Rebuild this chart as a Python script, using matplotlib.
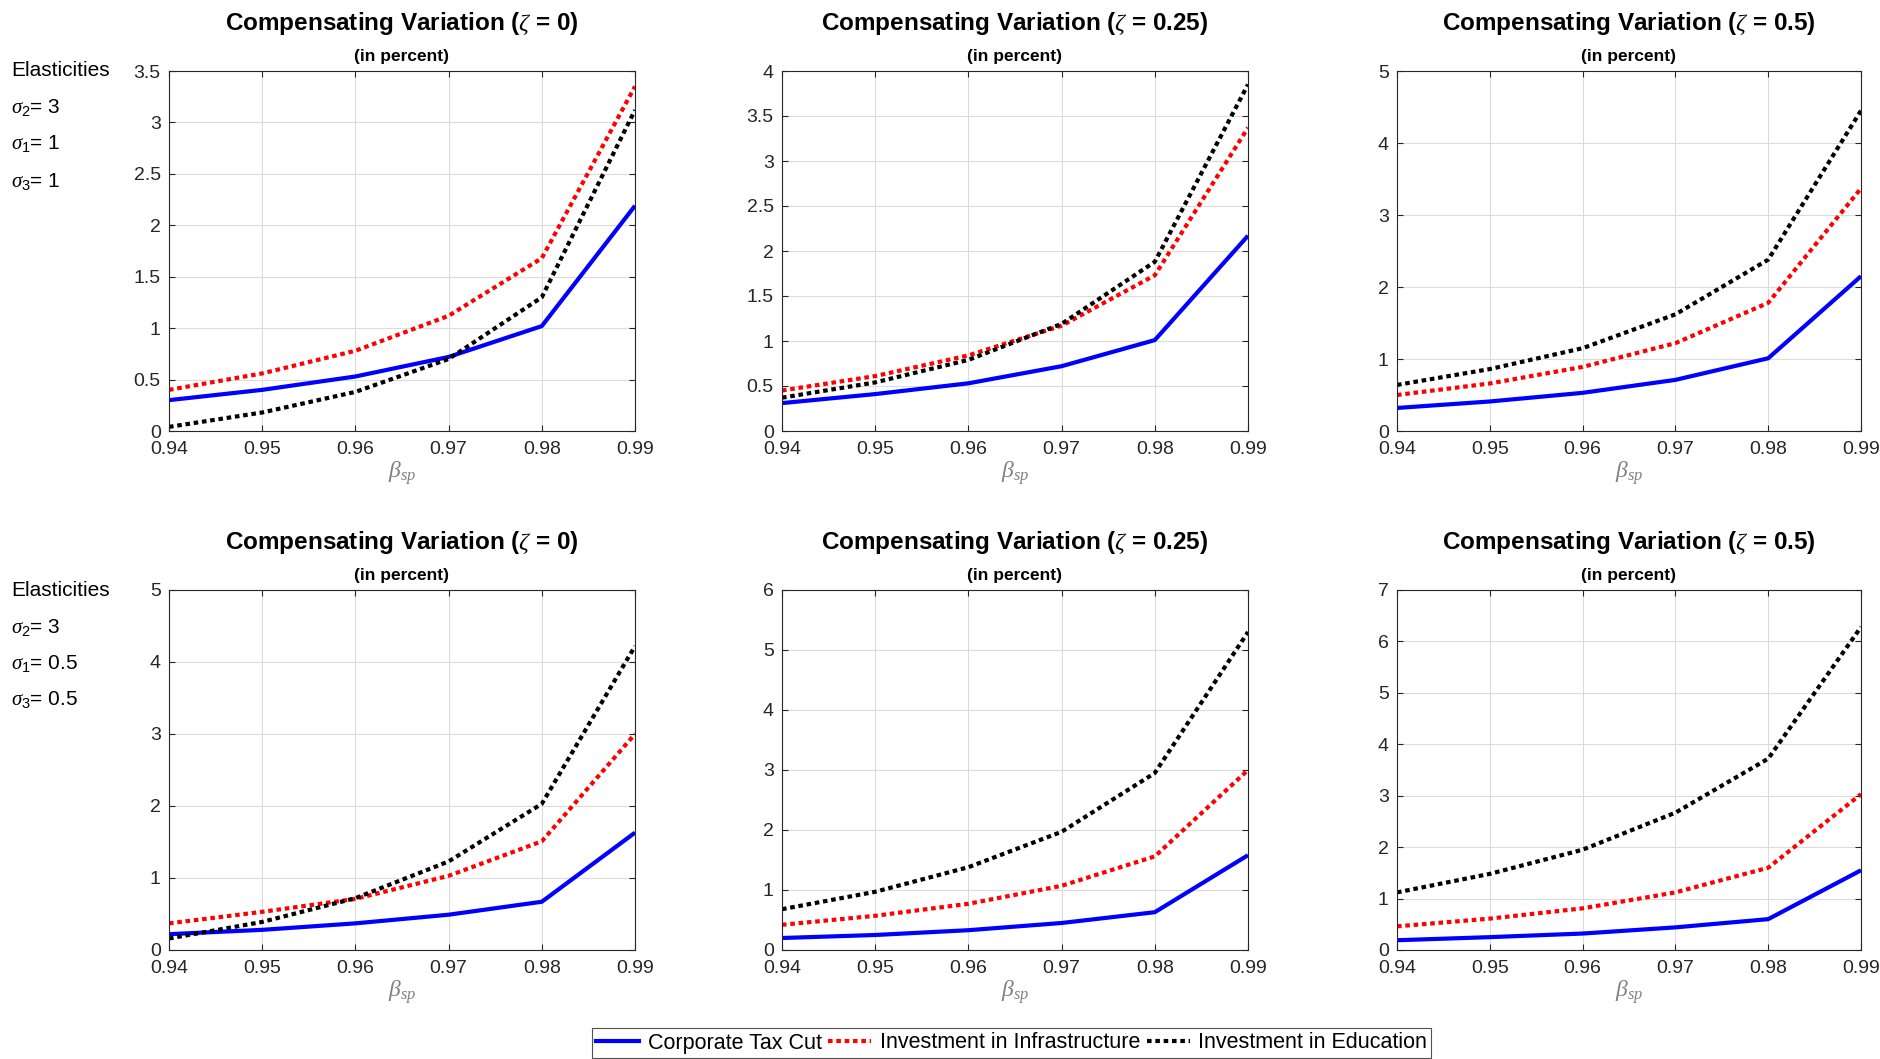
import numpy as np
import matplotlib
matplotlib.use("Agg")
import matplotlib.pyplot as plt
from matplotlib.lines import Line2D

plt.rcParams['font.family'] = ['Liberation Sans', 'DejaVu Sans']
plt.rcParams['mathtext.fontset'] = 'custom'
plt.rcParams['mathtext.rm'] = 'Liberation Sans'
plt.rcParams['mathtext.it'] = 'Liberation Serif:italic'

beta = [0.94, 0.95, 0.96, 0.97, 0.98, 0.99]
zetas = ['0', '0.25', '0.5']

# compensating variation (in percent), rows: sigma1 = sigma3 = 1, then 0.5
tax_cut = [
    [0.30, 0.40, 0.53, 0.72, 1.02, 2.19],
    [0.31, 0.41, 0.53, 0.72, 1.01, 2.17],
    [0.32, 0.41, 0.53, 0.71, 1.01, 2.15],
    [0.22, 0.28, 0.37, 0.49, 0.67, 1.63],
    [0.20, 0.25, 0.33, 0.45, 0.63, 1.58],
    [0.19, 0.25, 0.32, 0.44, 0.60, 1.55],
]
infrastructure = [
    [0.40, 0.56, 0.78, 1.12, 1.68, 3.35],
    [0.45, 0.61, 0.84, 1.17, 1.73, 3.37],
    [0.50, 0.66, 0.89, 1.22, 1.78, 3.37],
    [0.37, 0.53, 0.71, 1.03, 1.51, 3.00],
    [0.42, 0.57, 0.77, 1.07, 1.56, 3.00],
    [0.46, 0.61, 0.81, 1.12, 1.60, 3.03],
]
education = [
    [0.04, 0.18, 0.38, 0.70, 1.30, 3.12],
    [0.37, 0.54, 0.79, 1.19, 1.88, 3.85],
    [0.64, 0.86, 1.15, 1.62, 2.38, 4.45],
    [0.16, 0.39, 0.72, 1.23, 2.03, 4.22],
    [0.68, 0.97, 1.38, 1.97, 2.95, 5.30],
    [1.12, 1.48, 1.95, 2.67, 3.72, 6.28],
]
ymax = [3.5, 4, 5, 5, 6, 7]
ystep = [0.5, 0.5, 1, 1, 1, 1]
elasticities = [['3', '1', '1'], ['3', '0.5', '0.5']]

fig = plt.figure(figsize=(18.81, 10.59), dpi=100)
W, H = 1881.0, 1059.0
lefts = [169, 782, 1397]
widths = [466, 466, 464]
tops = [71, 590]
ax_h = 360

dot = (0, (1.1, 0.9))

for k in range(6):
    r, c = divmod(k, 3)
    ax = fig.add_axes([lefts[c] / W, 1 - (tops[r] + ax_h) / H, widths[c] / W, ax_h / H])
    ax.plot(beta, tax_cut[k], color='#0000ff', lw=3.0, solid_capstyle='butt')
    ax.plot(beta, infrastructure[k], color='#ff0000', lw=3.0, linestyle=dot)
    ax.plot(beta, education[k], color='#000000', lw=3.0, linestyle=dot)
    ax.set_xlim(0.94, 0.99)
    ax.set_ylim(0, ymax[k])
    ax.set_xticks(beta)
    ax.set_xticklabels(['%.2f' % b for b in beta])
    yt = np.arange(0, ymax[k] + 1e-9, ystep[k])
    ax.set_yticks(yt)
    ax.set_yticklabels(['%g' % v for v in yt])
    ax.grid(True, color='#dcdcdc', lw=0.8)
    ax.set_axisbelow(True)
    for s in ax.spines.values():
        s.set_color('#262626')
        s.set_linewidth(0.8)
    ax.tick_params(direction='in', length=4, width=0.8, colors='#262626',
                   labelsize=14, top=True, right=True)
    ax.tick_params(axis='x', pad=7)
    ax.tick_params(axis='y', pad=6)
    ax.set_xlabel(r'$\beta_{sp}$', fontsize=17, color='#808080', labelpad=1)
    ax.text(0.5, 1.02, '(in percent)', transform=ax.transAxes, ha='center', va='bottom',
            fontsize=12.5, fontweight='bold')
    ax.text(0.5, 1.095, r'Compensating Variation ($\zeta$ = %s)' % zetas[c],
            transform=ax.transAxes, ha='center', va='bottom',
            fontsize=17.5, fontweight='bold')

# elasticity annotations on the left of each row
for r in range(2):
    y0 = tops[r]
    fig.text(11 / W, 1 - y0 / H, 'Elasticities', fontsize=15, va='center')
    s2, s1, s3 = elasticities[r]
    fig.text(11 / W, 1 - (y0 + 37) / H, r'$\sigma_2$= ' + s2, fontsize=15, va='center')
    fig.text(11 / W, 1 - (y0 + 73) / H, r'$\sigma_1$= ' + s1, fontsize=15, va='center')
    fig.text(11 / W, 1 - (y0 + 110) / H, r'$\sigma_3$= ' + s3, fontsize=15, va='center')

handles = [
    Line2D([], [], color='#0000ff', lw=3.0),
    Line2D([], [], color='#ff0000', lw=3.0, linestyle=dot),
    Line2D([], [], color='#000000', lw=3.0, linestyle=dot),
]
labels = ['Corporate Tax Cut', 'Investment in Infrastructure', 'Investment in Education']
leg = fig.legend(handles, labels, loc='center', bbox_to_anchor=(1011.5 / W, 1 - 1043 / H),
                 ncol=3, fontsize=15.5, frameon=True, fancybox=False, handlelength=2.0,
                 handletextpad=0.4, columnspacing=0.3, borderpad=0.2)
leg.get_frame().set_edgecolor('#262626')
leg.get_frame().set_linewidth(0.8)

fig.savefig('out.png', dpi=100)
